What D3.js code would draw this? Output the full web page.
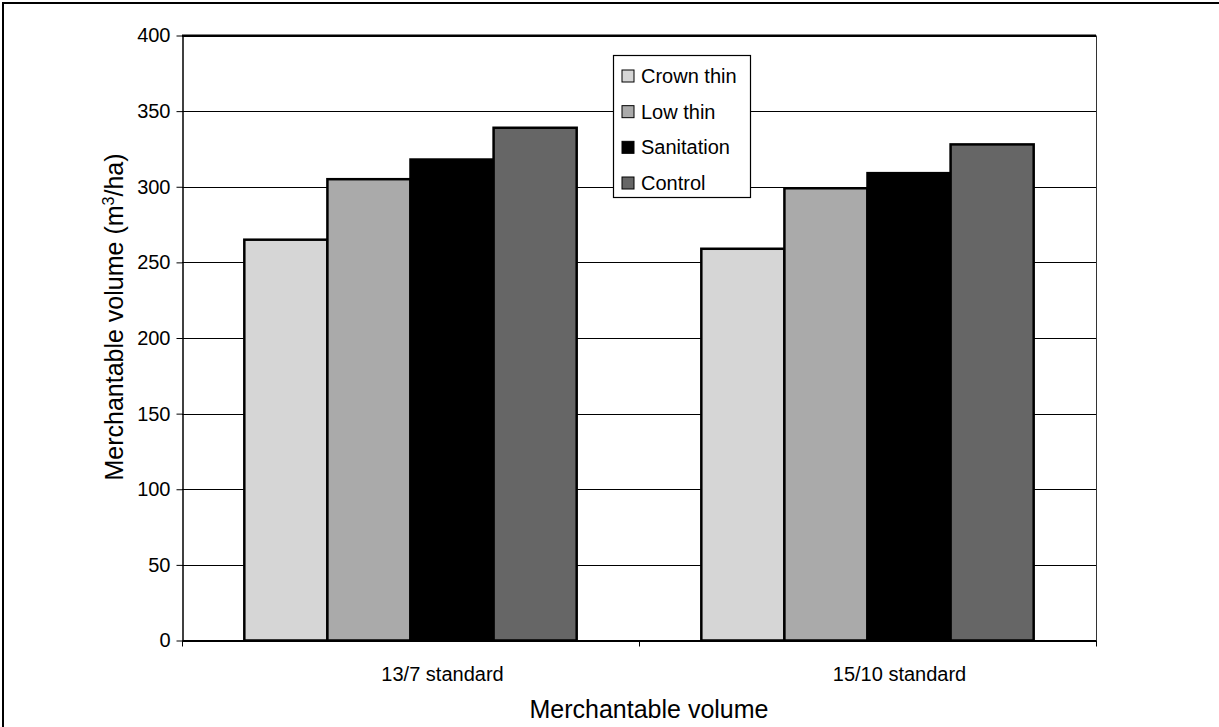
<!DOCTYPE html>
<html>
<head>
<meta charset="utf-8">
<script src="https://cdn.jsdelivr.net/npm/d3@7"></script>
<style>
  html, body { margin: 0; padding: 0; background: #fff; overflow: hidden; }
  svg { display: block; font-family: "Liberation Sans", Arial, sans-serif; }
</style>
</head>
<body>
<svg id="chart" width="1219" height="727"></svg>
<script>
const categories = ["13/7 standard", "15/10 standard"];
const seriesNames = ["Crown thin", "Low thin", "Sanitation", "Control"];
const seriesColors = ["#d6d6d6", "#aaaaaa", "#000000", "#666666"];
const crownThin = [265, 259];
const lowThin = [305, 299];
const sanitation = [318, 309];
const control = [339, 328];
const yTicks = [0, 50, 100, 150, 200, 250, 300, 350, 400];
const xTitle = "Merchantable volume";
const yTitle = "Merchantable volume (m";

const seriesValues = [crownThin, lowThin, sanitation, control];

const svg = d3.select("#chart");
const m = { left: 182, right: 1096, top: 35.5, bottom: 640.5 };

// outer frame (right and bottom edges cut off)
svg.append("rect")
  .attr("x", 3).attr("y", 3)
  .attr("width", 1230).attr("height", 740)
  .attr("fill", "none").attr("stroke", "#000").attr("stroke-width", 2);

const x0 = d3.scaleBand().domain(categories).range([m.left, m.right]).padding(0);
const x1 = d3.scaleBand().domain(seriesNames).range([0, x0.bandwidth()])
  .paddingInner(0).paddingOuter(0.75);
const y = d3.scaleLinear().domain([0, 400]).range([m.bottom, m.top]);

// gridlines
svg.append("g").selectAll("line").data(yTicks.filter(d => d > 0)).join("line")
  .attr("x1", m.left).attr("x2", m.right)
  .attr("y1", d => Math.round(y(d)) + 0.5).attr("y2", d => Math.round(y(d)) + 0.5)
  .attr("stroke", "#000").attr("stroke-width", 1);

// plot border (top thick, right)
svg.append("line").attr("x1", m.left).attr("x2", m.right)
  .attr("y1", y(400)).attr("y2", y(400)).attr("stroke", "#000").attr("stroke-width", 2);
svg.append("line").attr("x1", m.right + 0.5).attr("x2", m.right + 0.5)
  .attr("y1", y(400)).attr("y2", y(0)).attr("stroke", "#333").attr("stroke-width", 1);

// bars
const rows = [];
categories.forEach((c, ci) => {
  seriesNames.forEach((s, si) => rows.push({ c, s, si, v: seriesValues[si][ci] }));
});
svg.append("g").selectAll("rect").data(rows).join("rect")
  .attr("x", d => x0(d.c) + x1(d.s))
  .attr("y", d => y(d.v))
  .attr("width", x1.bandwidth())
  .attr("height", d => y(0) - y(d.v))
  .attr("fill", d => seriesColors[d.si])
  .attr("stroke", "#000").attr("stroke-width", 2.5);

// y axis
const yAxis = svg.append("g").attr("transform", `translate(${m.left + 0.5},0)`)
  .call(d3.axisLeft(y).tickValues(yTicks).tickSize(6).tickPadding(6).tickSizeOuter(0));
yAxis.select(".domain").attr("stroke", "#000").attr("stroke-width", 1.5);
yAxis.selectAll(".tick line").attr("stroke", "#000");
yAxis.selectAll("text").attr("font-size", 20).attr("fill", "#000")
  .attr("font-family", "Liberation Sans, Arial, sans-serif");

// x axis
const xAxis = svg.append("g").attr("transform", `translate(0,${m.bottom})`)
  .call(d3.axisBottom(x0).tickSize(0).tickSizeOuter(0).tickPadding(26));
xAxis.select(".domain").attr("stroke", "#000").attr("stroke-width", 2);
xAxis.selectAll("text").attr("font-size", 20).attr("fill", "#000")
  .attr("dx", 32)
  .attr("font-family", "Liberation Sans, Arial, sans-serif");
// category boundary ticks
const bounds = [m.left, x0(categories[1]), m.right];
svg.append("g").selectAll("line").data(bounds).join("line")
  .attr("x1", d => Math.round(d) + 0.5).attr("x2", d => Math.round(d) + 0.5)
  .attr("y1", m.bottom).attr("y2", m.bottom + 6)
  .attr("stroke", "#000");

// axis titles
svg.append("text").attr("x", 649).attr("y", 718)
  .attr("text-anchor", "middle").attr("font-size", 25).attr("fill", "#000")
  .text(xTitle);
const yt = svg.append("text")
  .attr("transform", "translate(123,317) rotate(-90)")
  .attr("text-anchor", "middle").attr("font-size", 25).attr("fill", "#000");
yt.append("tspan").text(yTitle);
yt.append("tspan").attr("font-size", 16).attr("dy", -9).text("3");
yt.append("tspan").attr("dy", 9).text("/ha)");

// legend
const lg = svg.append("g");
lg.append("rect").attr("x", 613.5).attr("y", 55.5).attr("width", 137).attr("height", 142)
  .attr("fill", "#fff").attr("stroke", "#000").attr("stroke-width", 1.2);
const ly = d3.scalePoint().domain(seriesNames).range([76, 183]);
const items = lg.selectAll("g.item").data(seriesNames).join("g").attr("class", "item");
items.append("rect")
  .attr("x", 622).attr("y", d => ly(d) - 6)
  .attr("width", 12).attr("height", 12)
  .attr("fill", (d, i) => seriesColors[i]).attr("stroke", "#000").attr("stroke-width", 1);
items.append("text")
  .attr("x", 641).attr("y", d => ly(d) + 7)
  .attr("font-size", 20).attr("fill", "#000")
  .text(d => d);
</script>
</body>
</html>
